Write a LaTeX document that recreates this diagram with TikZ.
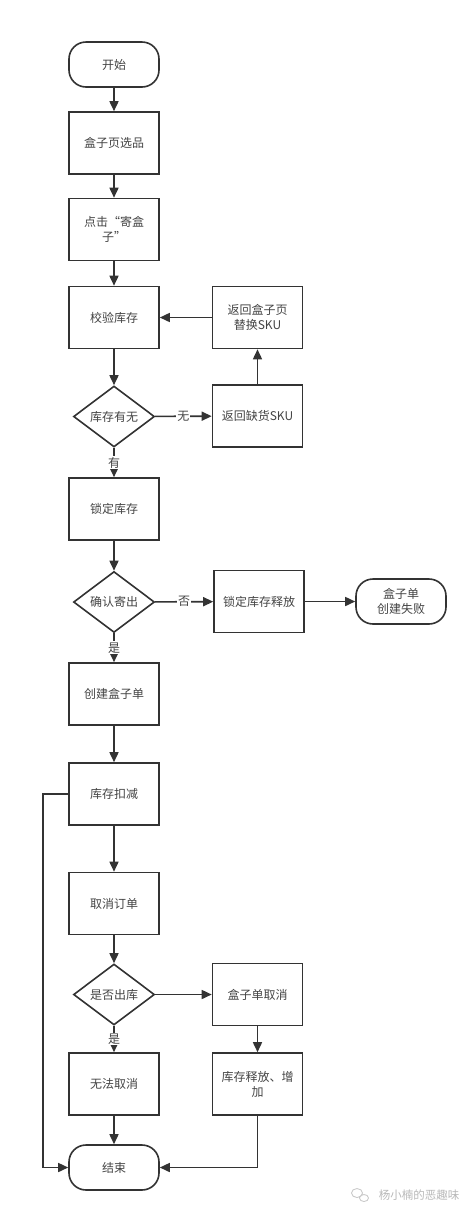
\documentclass[tikz,border=0pt]{standalone}
\usepackage{fontspec}
\setmainfont{Noto Sans CJK SC}
\usetikzlibrary{arrows.meta,shapes.geometric}
\definecolor{ln}{HTML}{333333}
\definecolor{tx}{HTML}{444444}
\begin{document}
\begin{tikzpicture}[x=1pt,y=-1pt,
  every node/.style={font=\fontsize{12pt}{15pt}\selectfont, text=tx},
  box/.style={draw=ln, line width=1.6pt, rectangle, minimum width=90pt, minimum height=62pt, align=center, inner sep=2pt},
  term/.style={draw=ln, line width=1.6pt, rectangle, rounded corners=17pt, minimum width=90pt, minimum height=45pt, align=center},
  dia/.style={draw=ln, line width=1.6pt, diamond, minimum width=81pt, minimum height=61pt, inner sep=0pt, align=center},
  conn/.style={draw=ln, line width=1.6pt, -{Triangle[length=10pt,width=9pt]}},
  lbl/.style={fill=white, inner sep=1pt}]
\useasboundingbox (0,0) rectangle (474,1219);
\fill[white] (0,0) rectangle (474,1219);

\node[term] (start) at (114,64.5) {开始};
\node[box] (pick) at (114,143) {盒子页选品};
\node[box] (click) at (114,229.5) {点击“寄盒\\子”};
\node[box] (check) at (114,317.5) {校验库存};
\node[box] (back) at (257.5,317.5) {返回盒子页\\替换SKU};
\node[dia] (d1) at (114,416.5) {库存有无};
\node[box] (lack) at (257.5,416) {返回缺货SKU};
\node[box] (lock) at (114,509) {锁定库存};
\node[dia] (d2) at (114,602) {确认寄出};
\node[box] (release) at (259,601.5) {锁定库存释放};
\node[term] (fail) at (401,601.5) {盒子单\\创建失败};
\node[box] (create) at (114,694) {创建盒子单};
\node[box] (deduct) at (114,794) {库存扣减};
\node[box] (cancel) at (114,903.5) {取消订单};
\node[dia] (d3) at (114,994.5) {是否出库};
\node[box] (boxcancel) at (257.5,994.5) {盒子单取消};
\node[box] (nocancel) at (114,1084) {无法取消};
\node[box] (restore) at (257.5,1084) {库存释放、增\\加};
\node[term] (end) at (114,1167.5) {结束};

\coordinate (lc) at (43,794);
\coordinate (lb) at (43,1167.5);
\coordinate (rb) at (257.5,1167.5);

\path[conn] (start) -- (pick);
\path[conn] (pick) -- (click);
\path[conn] (click) -- (check);
\path[conn] (check) -- (d1);
\path[conn] (d1) -- node[lbl] {无} (lack);
\path[conn] (lack) -- (back);
\path[conn] (back) -- (check);
\path[conn] (d1) -- node[lbl] {有} (lock);
\path[conn] (lock) -- (d2);
\path[conn] (d2) -- node[lbl] {否} (release);
\path[conn] (release) -- (fail);
\path[conn] (d2) -- node[lbl] {是} (create);
\path[conn] (create) -- (deduct);
\path[conn] (deduct) -- (cancel);
\path[conn] (cancel) -- (d3);
\path[conn] (d3) -- (boxcancel);
\path[conn] (d3) -- node[lbl] {是} (nocancel);
\path[conn] (boxcancel) -- (restore);
\path[conn] (nocancel) -- (end);
\path[conn] (deduct.west) -- (lc) -- (lb) -- (end.west);
\path[conn] (restore.south) -- (rb) -- (end.east);

\node[text=gray!55, font=\fontsize{11.5pt}{13pt}\selectfont] (wm) at (419,1195) {杨小楠的恶趣味};
\draw[gray!45, line width=0.8pt] (357,1193) ellipse (5.5pt and 4.5pt) (364,1198) ellipse (4.5pt and 3.5pt);
\end{tikzpicture}
\end{document}
